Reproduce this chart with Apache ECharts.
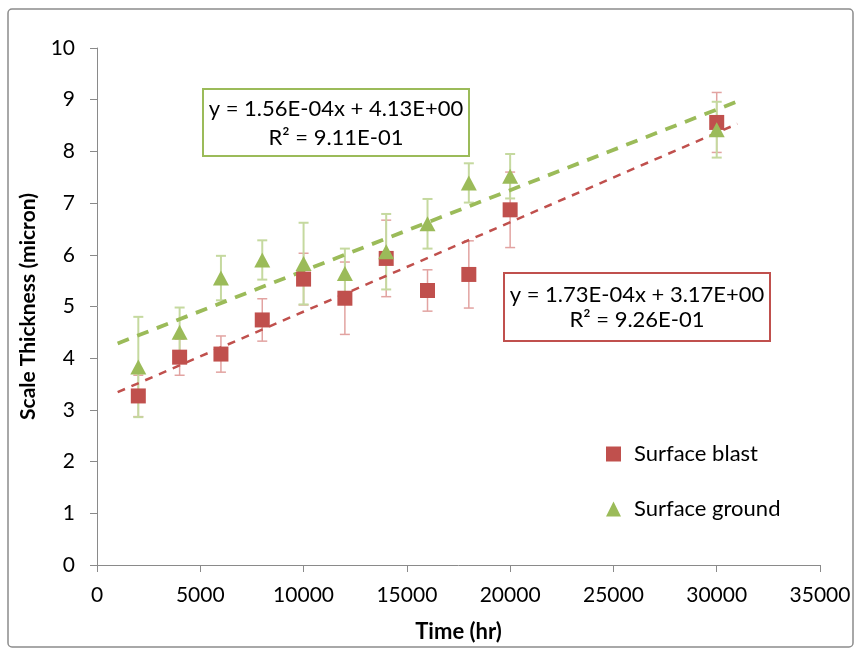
<!DOCTYPE html>
<html>
<head>
<meta charset="utf-8">
<script src="https://cdn.jsdelivr.net/npm/echarts@6/dist/echarts.min.js"></script>
<style>
  html, body { margin: 0; padding: 0; background: #ffffff; }
  #chart { width: 860px; height: 654px; }
</style>
</head>
<body>
<div id="chart"></div>
<script>
// Exposure time (hr)
var timeHr = [2000, 4000, 6000, 8000, 10000, 12000, 14000, 16000, 18000, 20000, 30000];

// Mean scale thickness (micron) and error half-widths
var blastMean  = [3.27, 4.02, 4.08, 4.74, 5.53, 5.16, 5.93, 5.31, 5.62, 6.87, 8.56];
var blastErr   = [0.40, 0.35, 0.35, 0.41, 0.50, 0.70, 0.74, 0.40, 0.65, 0.73, 0.58];
var groundMean = [3.83, 4.50, 5.55, 5.90, 5.83, 5.64, 6.06, 6.60, 7.39, 7.52, 8.42];
var groundErr  = [0.97, 0.48, 0.43, 0.38, 0.79, 0.48, 0.73, 0.48, 0.38, 0.43, 0.54];

// Linear trendlines: slope, intercept, R²
var blastFit  = { slope: 1.73e-4, intercept: 3.17, r2: 0.926 };
var groundFit = { slope: 1.56e-4, intercept: 4.13, r2: 0.911 };
var fitRange  = [1000, 31000];

var xTicks = { min: 0, max: 35000, step: 5000 };
var yTicks = { min: 0, max: 10, step: 1 };

var RED = '#C0504D', GREEN = '#9BBB59';
var FONT = 'Lato, "Open Sans", sans-serif';

function sci(v) {
  var e = Math.floor(Math.log10(Math.abs(v)));
  var m = v / Math.pow(10, e);
  var es = (e < 0 ? '-' : '+') + (Math.abs(e) < 10 ? '0' : '') + Math.abs(e);
  return m.toFixed(2) + 'E' + es;
}
function eqText(fit) {
  return 'y = ' + sci(fit.slope) + 'x + ' + sci(fit.intercept) + '\nR² = ' + sci(fit.r2);
}
function fitLine(fit) {
  return fitRange.map(function (x) { return [x, fit.slope * x + fit.intercept]; });
}
function errData(mean, err) {
  return timeHr.map(function (x, i) { return [x, mean[i] - err[i], mean[i] + err[i]]; });
}
function errSeries(name, mean, err, color, width) {
  return {
    type: 'custom',
    name: name + ' err',
    z: 1,
    silent: true,
    data: errData(mean, err),
    renderItem: function (params, api) {
      var lo = api.coord([api.value(0), api.value(1)]);
      var hi = api.coord([api.value(0), api.value(2)]);
      var c = 5;
      var st = { stroke: color, lineWidth: width, fill: null };
      return {
        type: 'group',
        children: [
          { type: 'line', shape: { x1: lo[0], y1: lo[1], x2: hi[0], y2: hi[1] }, style: st },
          { type: 'line', shape: { x1: lo[0] - c, y1: lo[1], x2: lo[0] + c, y2: lo[1] }, style: st },
          { type: 'line', shape: { x1: hi[0] - c, y1: hi[1], x2: hi[0] + c, y2: hi[1] }, style: st }
        ]
      };
    }
  };
}
function pairs(mean) { return timeHr.map(function (x, i) { return [x, mean[i]]; }); }

var chart = echarts.init(document.getElementById('chart'), null, { renderer: 'canvas' });

chart.setOption({
  backgroundColor: '#ffffff',
  animation: false,
  textStyle: { fontFamily: FONT },
  grid: { left: 97, right: 40, top: 48, bottom: 89, containLabel: false },
  xAxis: {
    type: 'value',
    min: xTicks.min, max: xTicks.max, interval: xTicks.step,
    name: 'Time (hr)',
    nameLocation: 'middle',
    nameGap: 56,
    nameTextStyle: { fontFamily: FONT, fontWeight: 'bold', fontSize: 22, color: '#000' },
    axisLine: { show: true, lineStyle: { color: '#8a8a8a', width: 1 } },
    axisTick: { show: true, inside: false, length: 7, lineStyle: { color: '#8a8a8a' } },
    axisLabel: { fontFamily: FONT, fontSize: 21, color: '#000', margin: 20,
                 formatter: function (v) { return String(v); } },
    splitLine: { show: false }
  },
  yAxis: {
    type: 'value',
    min: yTicks.min, max: yTicks.max, interval: yTicks.step,
    name: 'Scale Thickness (micron)',
    nameLocation: 'middle',
    nameGap: 58,
    nameRotate: 90,
    nameTextStyle: { fontFamily: FONT, fontWeight: 'bold', fontSize: 21, color: '#000' },
    axisLine: { show: true, lineStyle: { color: '#8a8a8a', width: 1 } },
    axisTick: { show: true, inside: false, length: 7, lineStyle: { color: '#8a8a8a' } },
    axisLabel: { fontFamily: FONT, fontSize: 21, color: '#000', margin: 22 },
    splitLine: { show: false }
  },
  legend: {
    orient: 'vertical',
    left: 601,
    top: 438,
    itemWidth: 15,
    itemHeight: 15,
    itemGap: 33,
    textStyle: { fontFamily: FONT, fontSize: 22, color: '#000', padding: [0, 0, 0, 8] },
    data: [
      { name: 'Surface blast', icon: 'rect' },
      { name: 'Surface ground', icon: 'triangle' }
    ]
  },
  series: [
    errSeries('Surface blast', blastMean, blastErr, '#E2A3A1', 1.5),
    errSeries('Surface ground', groundMean, groundErr, '#C5D99F', 2),
    {
      type: 'line', name: 'blast fit', z: 2, silent: true,
      data: fitLine(blastFit), symbol: 'none',
      lineStyle: { color: RED, width: 2.5, type: [8, 7] }
    },
    {
      type: 'line', name: 'ground fit', z: 2, silent: true,
      data: fitLine(groundFit), symbol: 'none',
      lineStyle: { color: GREEN, width: 3.8, type: [12, 9] }
    },
    {
      type: 'scatter', name: 'Surface blast', z: 3,
      data: pairs(blastMean),
      symbol: 'rect', symbolSize: 15,
      itemStyle: { color: RED, opacity: 1 }
    },
    {
      type: 'scatter', name: 'Surface ground', z: 4,
      data: pairs(groundMean),
      symbol: 'triangle', symbolSize: [16, 15],
      itemStyle: { color: GREEN, opacity: 1 }
    }
  ],
  graphic: [
    {
      type: 'rect', z: 0, silent: true,
      shape: { x: 8, y: 9, width: 845, height: 638, r: 4 },
      style: { fill: null, stroke: '#8c8c8c', lineWidth: 1.5 }
    },
    {
      type: 'group', left: 202, top: 88, z: 100,
      children: [
        { type: 'rect', shape: { x: 0, y: 0, width: 266, height: 67 },
          style: { fill: '#ffffff', stroke: GREEN, lineWidth: 2 } },
        { type: 'text', x: 133, y: 34,
          style: { text: eqText(groundFit), fontFamily: FONT, fontSize: 22, lineHeight: 29,
                   fill: '#000', align: 'center', verticalAlign: 'middle' } }
      ]
    },
    {
      type: 'group', left: 503, top: 272, z: 100,
      children: [
        { type: 'rect', shape: { x: 0, y: 0, width: 266, height: 68 },
          style: { fill: '#ffffff', stroke: RED, lineWidth: 2 } },
        { type: 'text', x: 133, y: 34,
          style: { text: eqText(blastFit), fontFamily: FONT, fontSize: 22, lineHeight: 25,
                   fill: '#000', align: 'center', verticalAlign: 'middle' } }
      ]
    }
  ]
});
</script>
</body>
</html>
